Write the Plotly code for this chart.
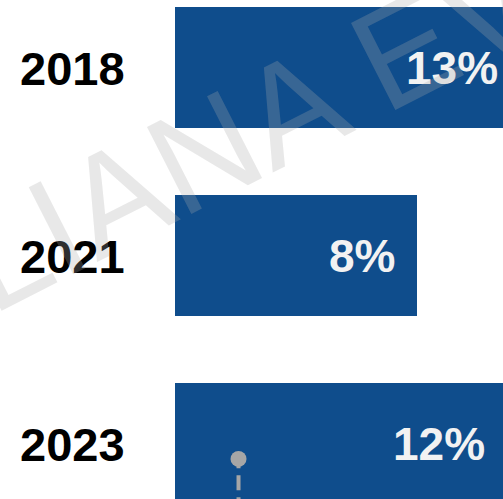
import plotly.graph_objects as go

# data
years = ['2018', '2021', '2023']
shares = [13, 8, 12]
labels = ['13%', '8%', '12%']
marker_value = 2.1  # grey lollipop marker in the 2023 row

BLUE = '#0F4D8C'
rows = list(range(len(years)))

fig = go.Figure()

# the bars
fig.add_trace(go.Bar(
    x=shares,
    y=rows,
    orientation='h',
    width=0.644,
    marker=dict(color=BLUE, line=dict(width=0)),
    hoverinfo='skip',
    showlegend=False,
))

# dashed grey marker going off the bottom
fig.add_trace(go.Scatter(
    x=[marker_value, marker_value],
    y=[2.6, 2.082],
    mode='lines',
    line=dict(color='#A6A6A6', width=4, dash='15px,7px'),
    hoverinfo='skip',
    showlegend=False,
))
fig.add_trace(go.Scatter(
    x=[marker_value],
    y=[2.082],
    mode='markers',
    marker=dict(color='#A6A6A6', size=16, line=dict(width=0)),
    hoverinfo='skip',
    showlegend=False,
))

annotations = []

# year labels on the left
for r, yr in zip(rows, years):
    annotations.append(dict(
        x=18 / 503, xref='paper', xanchor='left',
        y=r, yref='y', yanchor='middle', yshift=-1,
        text=yr, showarrow=False,
        font=dict(family='Liberation Sans, Arial', size=47, color='black', weight='bold'),
    ))

# value labels (placed by eye, the big bars run off the right edge)
label_x = [10.74, 7.34, 10.31]
for r, lab, lx in zip(rows, labels, label_x):
    annotations.append(dict(
        x=lx, xref='x', xanchor='right',
        y=r, yref='y', yanchor='middle', yshift=0,
        text=lab, showarrow=False,
        font=dict(family='Liberation Sans, Arial', size=46, color='#F2F2F2', weight='bold'),
    ))

# faint watermark across everything
annotations.append(dict(
    x=250 / 503, xref='paper', xanchor='center',
    y=1 - 128 / 499, yref='paper', yanchor='middle',
    text='LIANA EV', textangle=-27, showarrow=False,
    font=dict(family='Liberation Sans, Arial', size=142, color='rgba(170,170,170,0.27)'),
))

fig.update_layout(
    width=503, height=499,
    margin=dict(l=0, r=0, t=0, b=0),
    paper_bgcolor='white',
    plot_bgcolor='white',
    bargap=0,
    annotations=annotations,
    xaxis=dict(range=[-5.785, 10.843], visible=False, fixedrange=True),
    yaxis=dict(range=[2.295, -0.359], visible=False, fixedrange=True),
)

fig.write_html("out.html", config={'displayModeBar': False},
               post_script="document.body.style.margin='0';")
